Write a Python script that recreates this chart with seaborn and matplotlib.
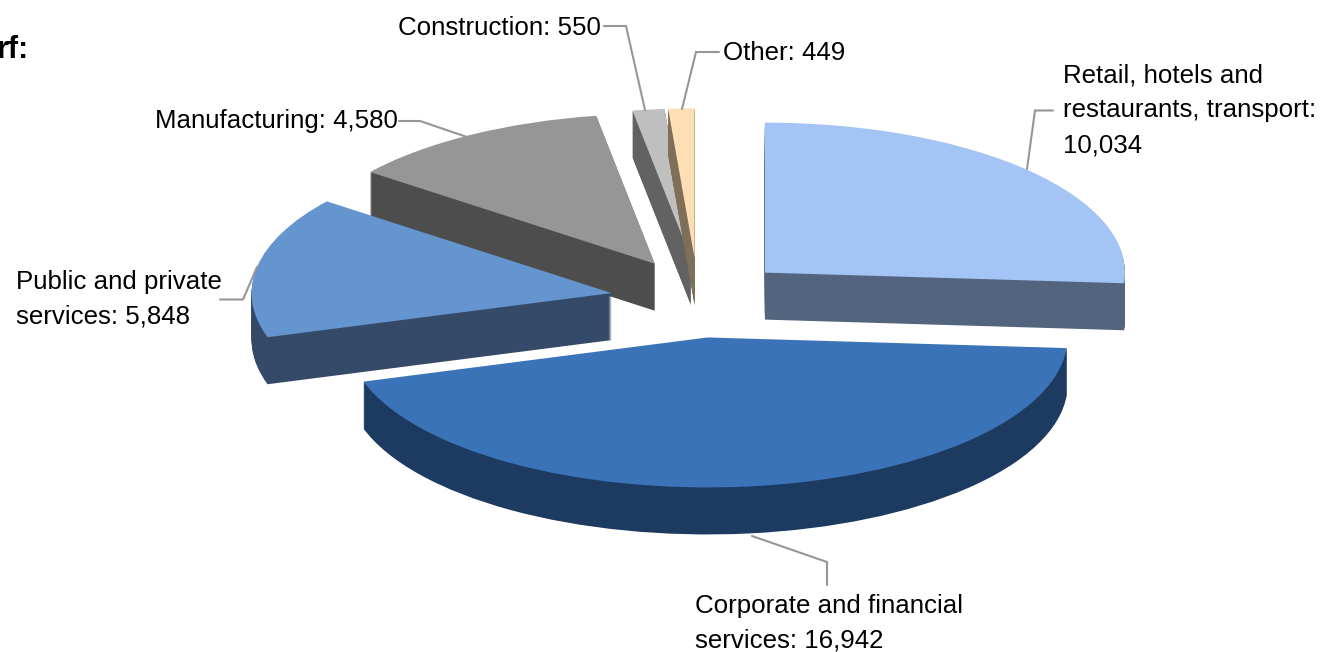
import matplotlib
matplotlib.use('Agg')
import matplotlib.pyplot as plt
import seaborn as sns

# Slice data, clockwise from twelve o'clock
categories = ['Retail, hotels and\nrestaurants, transport:\n', 'Corporate and financial\nservices: ',
              'Public and private\nservices: ', 'Manufacturing: ', 'Construction: ', 'Other: ']
values = [10034, 16942, 5848, 4580, 550, 449]
top_colors = ['#A4C4F5', '#3B73B9', '#6595CF', '#969696', '#BFBFBF', '#FEDFB5']
side_colors = ['#53647E', '#1D3A60', '#344A68', '#4D4D4D', '#626262', '#7F6F58']

# Back slices get drawn first
draw_rank = [4, 5, 3, 2, 0, 1]
# small per-slice shift in pixels (x right, y up), original is not a perfect ellipse
nudges = [(0, 0), (0, 0), (6, -1), (5.5, 2), (5, 2), (1, 2)]

W, H = 1321, 652
CX, CY = 697, 299  # pie centre in pixels
RX, RY = 360, 150  # ellipse radii in pixels
DEPTH = 47

sns.set_theme(style='white')
plt.rcParams['font.family'] = ['Liberation Sans', 'DejaVu Sans']

fig = plt.figure(figsize=(W / 100, H / 100), dpi=100)
ax = fig.add_axes([0, 0, 1, 1])

# Stack pies downwards to fake the 3D extrusion
for layer in range(DEPTH, -1, -1):
    colors = top_colors if layer == 0 else side_colors
    wedges, _ = ax.pie(values, colors=colors, startangle=90, counterclock=False,
                       explode=[0.258] * len(values), radius=1,
                       center=(0, -layer / RY), wedgeprops={'linewidth': 0})
    for wedge, rank, (nx, ny) in zip(wedges, draw_rank, nudges):
        wedge.set_zorder(rank * 100 + (DEPTH - layer))
        wedge.set_center((wedge.center[0] + nx / RX, wedge.center[1] + ny / RY))

# Squash the circle to an ellipse
ax.set_aspect('auto')
ax.set_xlim(-CX / RX, (W - CX) / RX)
ax.set_ylim((CY - H) / RY, CY / RY)
ax.axis('off')

# Overlay in pixel coordinates for labels and leader lines
ov = fig.add_axes([0, 0, 1, 1], facecolor='none')
ov.set_xlim(0, W)
ov.set_ylim(H, 0)
ov.axis('off')

leaders = [
    ([1053, 1035, 1027], [110.5, 110.5, 169]),
    ([752, 827, 827], [536, 562, 585]),
    ([220, 243, 257], [299.5, 299.5, 267]),
    ([399, 420, 467], [121, 121, 137]),
    ([604, 626, 645], [26, 26, 110]),
    ([719, 696, 682], [52, 52, 109]),
]
for xs, ys in leaders:
    ov.plot(xs, ys, color='#969696', lw=1.5, solid_joinstyle='miter')

# x, first baseline, alignment for each label
label_pos = [(1063, 83, 'left'), (695, 613, 'left'), (16, 289, 'left'),
             (398, 128, 'right'), (398, 35, 'left'), (723, 60, 'left')]
for cat, val, (x, y, ha) in zip(categories, values, label_pos):
    for i, line in enumerate(f'{cat}{val:,}'.split('\n')):
        ov.text(x, y + i * 34.5, line, fontsize=18.6, color='black', ha=ha, va='baseline')

ov.text(29, 58, 'rf:', fontsize=22, fontweight='bold', color='black', ha='right', va='baseline')

fig.savefig('out.png', dpi=100)
